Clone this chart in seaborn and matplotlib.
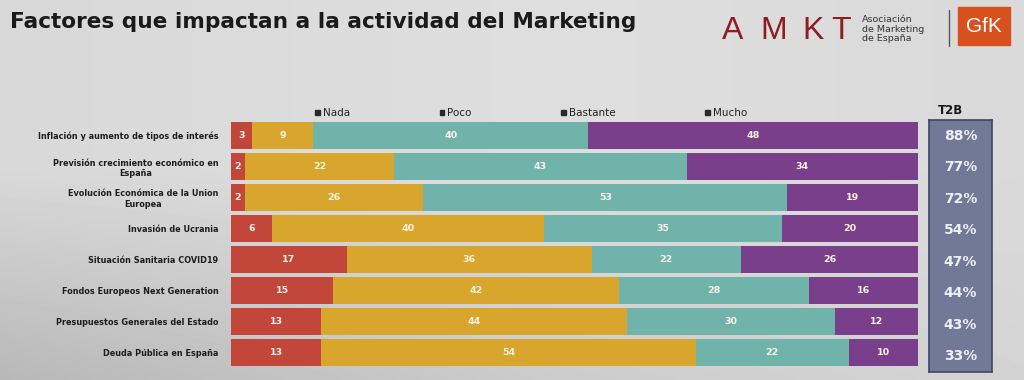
import numpy as np
import pandas as pd
import matplotlib
matplotlib.use("Agg")
import matplotlib.pyplot as plt
import seaborn as sns
from matplotlib.patches import Rectangle

# ---------------- data ----------------
factors = [
    "Inflación y aumento de tipos de interés",
    "Previsión crecimiento económico en\nEspaña",
    "Evolución Económica de la Union\nEuropea",
    "Invasión de Ucrania",
    "Situación Sanitaria COVID19",
    "Fondos Europeos Next Generation",
    "Presupuestos Generales del Estado",
    "Deuda Pública en España",
]
series = ["Nada", "Poco", "Bastante", "Mucho"]
nada = [3, 2, 2, 6, 17, 15, 13, 13]
poco = [9, 22, 26, 40, 36, 42, 44, 54]
bastante = [40, 43, 53, 35, 22, 28, 30, 22]
mucho = [48, 34, 19, 20, 26, 16, 12, 10]
t2b = [88, 77, 72, 54, 47, 44, 43, 33]

colors = ["#c2473a", "#d8a62c", "#6fb3ab", "#7a3f8a"]
bg = "#d8dbdd"

sns.set_theme(style="white")
plt.rcParams["font.family"] = ["DejaVu Sans"]

vals = np.array([nada, poco, bastante, mucho], dtype=float)
totals = vals.sum(axis=0)
shares = vals / totals * 100
cums = np.cumsum(shares, axis=0)

fig = plt.figure(figsize=(10.24, 3.8), dpi=100, facecolor=bg)

# subtle photographic background shading
bgax = fig.add_axes([0, 0, 1, 1], zorder=-10)
yy, xx = np.mgrid[0:1:80j, 0:1:200j]
shade = 0.87 - 0.12 * np.clip(yy - 0.45, 0, None) * np.clip(1.2 - xx, 0, None) * 1.6 \
        - 0.04 * np.abs(xx - 0.55)
bgax.imshow(shade, cmap="gray", vmin=0, vmax=1, aspect="auto",
            extent=[0, 1, 0, 1], origin="upper", interpolation="bilinear")
bgax.set_axis_off()

# ---------- main stacked bar axes ----------
ax = fig.add_axes([231 / 1024, 1 - 368 / 380, (918 - 231) / 1024, 248 / 380])
ax.set_facecolor("none")
for k in range(3, -1, -1):
    df = pd.DataFrame({"factor": factors, "cum": cums[k]})
    sns.barplot(data=df, x="cum", y="factor", order=factors, orient="h",
                color=colors[k], width=0.84, saturation=1, ax=ax,
                edgecolor="none", linewidth=0)

for i in range(len(factors)):
    start = 0.0
    for k in range(4):
        w = shares[k, i]
        ax.text(start + w / 2, i, f"{int(vals[k, i])}", ha="center", va="center",
                color="#fbf3e6", fontsize=6.8, fontweight="bold")
        start += w

ax.set_xlim(0, 100)
ax.set_ylim(len(factors) - 0.5, -0.5)
ax.set_xlabel("")
ax.set_ylabel("")
ax.set_xticks([])
ax.tick_params(axis="y", length=0, pad=9)
for lab in ax.get_yticklabels():
    lab.set_fontsize(5.9)
    lab.set_fontweight("bold")
    lab.set_color("#1e1e1e")
    lab.set_multialignment("center")
sns.despine(ax=ax, left=True, bottom=True)

handles = [Rectangle((0, 0), 1, 1, color="#2a2a2a") for c in colors]
ax.legend(handles, series, ncol=4, loc="lower left",
          bbox_to_anchor=(80 / 687, 0.99), frameon=False, fontsize=7.5,
          handlelength=0.45, handleheight=0.45, handletextpad=0.3,
          columnspacing=8.6, borderaxespad=0.0, labelcolor="#222222")

# ---------- T2B column ----------
ax2 = fig.add_axes([929 / 1024, 1 - 372 / 380, 63 / 1024, 252 / 380])
ax2.set_facecolor("#717996")
for s in ax2.spines.values():
    s.set_color("#3f4662")
    s.set_linewidth(1.2)
ax2.set_xlim(0, 1)
ax2.set_ylim(len(factors) - 0.5, -0.5)
ax2.set_xticks([])
ax2.set_yticks([])
for i, v in enumerate(t2b):
    ax2.text(0.5, i, f"{v}%", ha="center", va="center", color="#eeeef5",
             fontsize=10, fontweight="bold")
fig.text(951 / 1024, 1 - 110 / 380, "T2B", ha="center", va="center",
         fontsize=8.5, fontweight="bold", color="#1a1a1a")

# ---------- title & logos ----------
fig.text(10 / 1024, 1 - 22 / 380, "Factores que impactan a la actividad del Marketing",
         ha="left", va="center", fontsize=15.6, fontweight="bold", color="#1a1a1a")
for letter, xc in zip("AMKT", [733, 774, 813, 841]):
    fig.text(xc / 1024, 1 - 31 / 380, letter, ha="center", va="center",
             fontsize=23, color="#8e1c22", family="Liberation Sans")
fig.text(862 / 1024, 1 - 29 / 380, "Asociación\nde Marketing\nde España", ha="left",
         va="center", fontsize=6.8, color="#333333", linespacing=1.05)
fig.add_artist(plt.Line2D([949 / 1024, 949 / 1024], [1 - 10 / 380, 1 - 46 / 380],
                          color="#555555", lw=1))
fig.add_artist(Rectangle((958 / 1024, 1 - 45 / 380), 52 / 1024, 38 / 380,
                         transform=fig.transFigure, color="#d9501f"))
fig.text(984 / 1024, 1 - 26 / 380, "GfK", ha="center", va="center", fontsize=15,
         color="white", family="Liberation Sans")

fig.savefig("out.png", dpi=100, facecolor=bg)
